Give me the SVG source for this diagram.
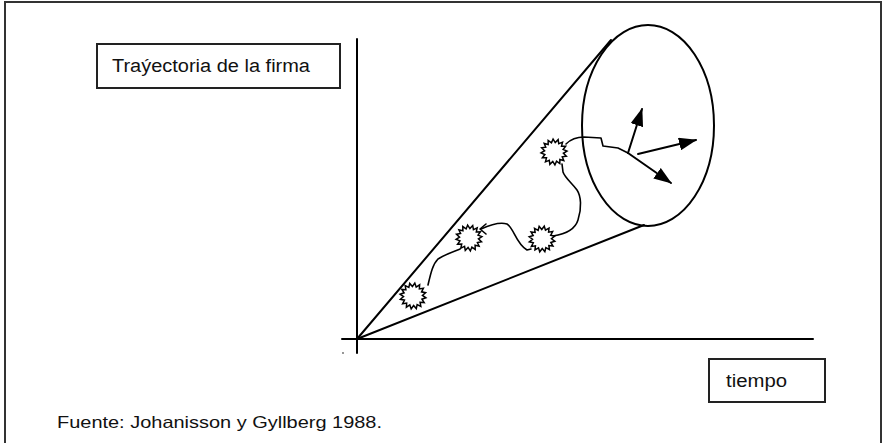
<svg xmlns="http://www.w3.org/2000/svg" width="883" height="443" viewBox="0 0 883 443">
<style>
.ln{fill:none;stroke:#000;stroke-width:2;stroke-linecap:round;stroke-linejoin:round}
.tr{fill:none;stroke:#000;stroke-width:1.6;stroke-linecap:round;stroke-linejoin:round}
.box{fill:#fff;stroke:#222;stroke-width:2}
.txt{font-family:"Liberation Sans",Arial,sans-serif;fill:#111}
.star{fill:#fff;stroke:#000;stroke-width:1.5;stroke-linejoin:miter}
</style>
<defs>
<marker id="ah" viewBox="0 0 18 13" refX="17" refY="6.5" markerWidth="18" markerHeight="13" markerUnits="userSpaceOnUse" orient="auto">
<path d="M0,0 L18,6.5 L0,13 z" fill="#000"/>
</marker>
<polygon id="burst" points="13,0 9.3,1.9 12,5 7.9,5.3 9.2,9.2 5.3,7.9 5,12 1.9,9.3 0,13 -1.9,9.3 -5,12 -5.3,7.9 -9.2,9.2 -7.9,5.3 -12,5 -9.3,1.9 -13,0 -9.3,-1.9 -12,-5 -7.9,-5.3 -9.2,-9.2 -5.3,-7.9 -5,-12 -1.9,-9.3 0,-13 1.9,-9.3 5,-12 5.3,-7.9 9.2,-9.2 7.9,-5.3 12,-5 9.3,-1.9"/>
</defs>
<rect x="0" y="0" width="883" height="443" fill="#fff"/>
<path d="M5,443 L5,2 L881,2 L881,443" fill="none" stroke="#333" stroke-width="2"/>

<g id="title">
<rect class="box" x="97" y="44" width="243" height="44"/>
<text class="txt" x="112" y="72" font-size="18" textLength="198" lengthAdjust="spacingAndGlyphs">Traýectoria de la firma</text>
</g>

<g id="tiempo">
<rect class="box" x="709" y="359" width="116" height="43"/>
<text class="txt" x="726" y="387" font-size="18" textLength="61" lengthAdjust="spacingAndGlyphs">tiempo</text>
</g>

<g id="source">
<text class="txt" x="57" y="428" font-size="16.5" textLength="325" lengthAdjust="spacingAndGlyphs">Fuente: Johanisson y Gyllberg 1988.</text>
</g>

<g id="axes">
<path class="ln" d="M357,39 L357,353"/>
<path class="ln" d="M342,339 L813,339"/>
<circle cx="343" cy="353" r="0.9" fill="#666"/>
</g>

<g id="cone">
<path class="ln" d="M357,339 L611,40"/>
<path class="ln" d="M357,339 L644,225"/>
<ellipse class="ln" cx="648" cy="125.5" rx="66" ry="100.5"/>
</g>

<g id="connectors">
<path class="tr" d="M428,285 C431,272 433,264 438,259 C446,254 452,252 460,249"/>
<path class="tr" d="M481,229 C492,224 500,222 507,224 C514,228 516,244 527,250 L531,249"/>
<path class="tr" d="M486,224 L480,229 L486,234"/>
<path class="tr" d="M553,236 C566,234 575,230 578,220 C582,208 581,196 577,190 C572,183 565,178 563,172 L562,164"/>
<path class="tr" d="M566,144 C571,139 576,137 584,137 L601,138 L603,146 L618,148 L628,153"/>
<path class="ln" d="M628,153 L642,109" marker-end="url(#ah)"/>
<path class="ln" d="M638,154 L696,140" marker-end="url(#ah)"/>
<path class="ln" d="M628,153 L671,183" marker-end="url(#ah)"/>
</g>

<g id="event1"><use href="#burst" class="star" transform="translate(413,296) rotate(8)"/></g>
<g id="event2"><use href="#burst" class="star" transform="translate(469,238) rotate(-6)"/></g>
<g id="event3"><use href="#burst" class="star" transform="translate(542,239) rotate(10)"/></g>
<g id="event4"><use href="#burst" class="star" transform="translate(554,152) rotate(-4)"/></g>
</svg>
